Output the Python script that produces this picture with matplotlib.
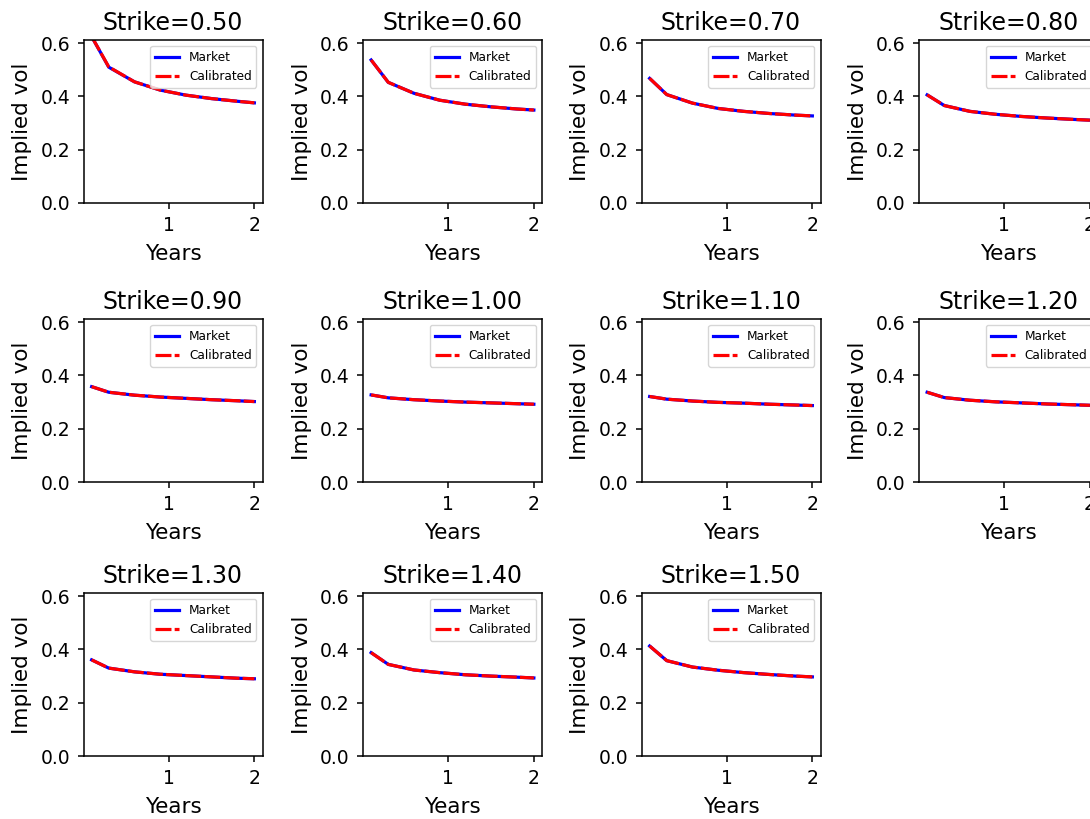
import matplotlib
matplotlib.use("Agg")
import matplotlib.pyplot as plt

years = [0.1, 0.3, 0.6, 0.9, 1.2, 1.5, 1.8, 2.0]
strikes = [0.50, 0.60, 0.70, 0.80, 0.90, 1.00, 1.10, 1.20, 1.30, 1.40, 1.50]

market = [
    [0.625, 0.510, 0.455, 0.424, 0.405, 0.392, 0.382, 0.376],
    [0.537, 0.453, 0.412, 0.386, 0.371, 0.361, 0.353, 0.349],
    [0.468, 0.407, 0.375, 0.355, 0.344, 0.336, 0.330, 0.327],
    [0.406, 0.366, 0.344, 0.333, 0.325, 0.319, 0.314, 0.311],
    [0.358, 0.337, 0.326, 0.319, 0.314, 0.309, 0.305, 0.302],
    [0.327, 0.316, 0.309, 0.304, 0.300, 0.297, 0.294, 0.292],
    [0.321, 0.311, 0.304, 0.299, 0.296, 0.292, 0.289, 0.287],
    [0.337, 0.317, 0.307, 0.301, 0.297, 0.293, 0.290, 0.288],
    [0.361, 0.330, 0.316, 0.307, 0.302, 0.297, 0.292, 0.290],
    [0.388, 0.344, 0.323, 0.313, 0.305, 0.300, 0.296, 0.293],
    [0.413, 0.358, 0.334, 0.322, 0.313, 0.306, 0.300, 0.297],
]
calibrated = [
    [0.625, 0.511, 0.455, 0.424, 0.405, 0.392, 0.382, 0.376],
    [0.537, 0.453, 0.412, 0.386, 0.371, 0.361, 0.353, 0.349],
    [0.468, 0.407, 0.375, 0.355, 0.344, 0.336, 0.330, 0.327],
    [0.406, 0.366, 0.344, 0.333, 0.325, 0.319, 0.314, 0.311],
    [0.358, 0.337, 0.326, 0.319, 0.314, 0.309, 0.305, 0.302],
    [0.327, 0.316, 0.309, 0.304, 0.300, 0.297, 0.294, 0.292],
    [0.321, 0.311, 0.304, 0.299, 0.296, 0.292, 0.289, 0.287],
    [0.337, 0.317, 0.307, 0.301, 0.297, 0.293, 0.290, 0.288],
    [0.361, 0.330, 0.316, 0.307, 0.302, 0.297, 0.292, 0.290],
    [0.388, 0.344, 0.323, 0.313, 0.305, 0.300, 0.296, 0.293],
    [0.413, 0.358, 0.334, 0.322, 0.313, 0.306, 0.300, 0.297],
]
yticks = [0.0, 0.2, 0.4, 0.6]
xticks = [1, 2]

W, H = 1090, 819
fig = plt.figure(figsize=(W / 100, H / 100), dpi=100)

col_left = [83.5, 363, 641.5, 919]
row_top = [40, 319, 593]
aw, ah = 179, 163

for i, k in enumerate(strikes):
    r, c = divmod(i, 4)
    l = col_left[c] / W
    b = 1 - (row_top[r] + ah) / H
    ax = fig.add_axes([l, b, aw / W, ah / H])
    ax.plot(years, market[i], color="blue", lw=2.3, label="Market")
    ax.plot(years, calibrated[i], color="red", lw=2.3, ls=(0, (5, 1)), label="Calibrated")
    ax.set_ylim(0, 0.612)
    ax.set_xlim(0.005, 2.095)
    ax.set_xticks(xticks)
    ax.set_yticks(yticks)
    ax.set_yticklabels([f"{v:.1f}" for v in yticks])
    ax.set_xticklabels([str(v) for v in xticks])
    ax.tick_params(labelsize=13.5, length=4.5, width=1.1, pad=5)
    for s in ax.spines.values():
        s.set_linewidth(1.1)
    ax.set_title(f"Strike={k:.2f}", fontsize=17, pad=7)
    ax.set_xlabel("Years", fontsize=15.5, labelpad=6.5)
    ax.set_ylabel("Implied vol", fontsize=15.5, labelpad=6)
    ax.legend(loc="upper right", fontsize=8.7)

fig.savefig("out.png", dpi=100)
